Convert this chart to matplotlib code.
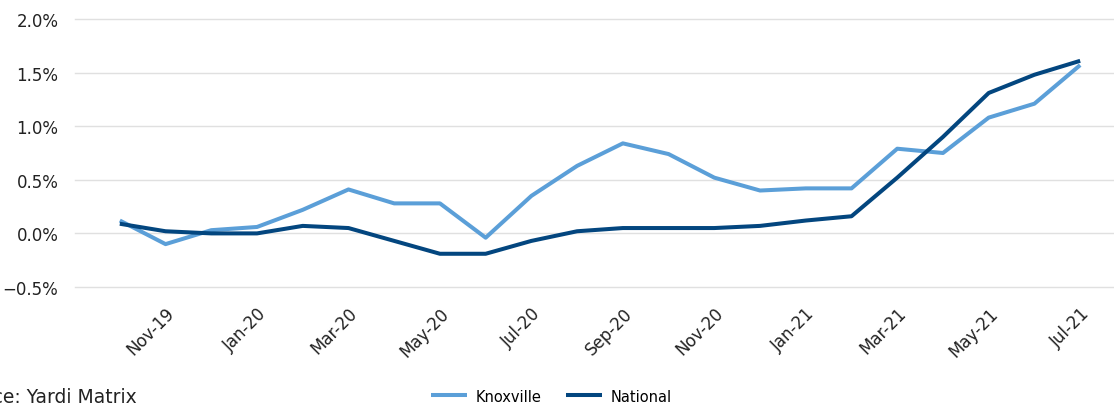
import numpy as np
import matplotlib
matplotlib.use("Agg")
import matplotlib.pyplot as plt
from matplotlib.ticker import PercentFormatter

# Monatswerte Okt-19 .. Jul-21
months = ["Oct-19", "Nov-19", "Dec-19", "Jan-20", "Feb-20", "Mar-20", "Apr-20",
          "May-20", "Jun-20", "Jul-20", "Aug-20", "Sep-20", "Oct-20", "Nov-20",
          "Dec-20", "Jan-21", "Feb-21", "Mar-21", "Apr-21", "May-21", "Jun-21",
          "Jul-21"]
knoxville = [0.12, -0.10, 0.03, 0.06, 0.22, 0.41, 0.28, 0.28, -0.04, 0.35, 0.63,
             0.84, 0.74, 0.52, 0.40, 0.42, 0.42, 0.79, 0.75, 1.08, 1.21, 1.57]
national = [0.09, 0.02, 0.00, 0.00, 0.07, 0.05, -0.07, -0.19, -0.19, -0.07, 0.02,
            0.05, 0.05, 0.05, 0.07, 0.12, 0.16, 0.52, 0.90, 1.31, 1.48, 1.61]
y_ticks = [-0.5, 0.0, 0.5, 1.0, 1.5, 2.0]

plt.rcParams['font.family'] = ['DejaVu Sans']

fig = plt.figure(figsize=(11.14, 4.06), dpi=100)
ax = fig.add_axes([75 / 1114, 1 - 288 / 406, 1 - 75 / 1114, 268 / 406])

x = np.arange(len(months))
ax.plot(x, knoxville, color="#5b9fd8", lw=2.9, label="Knoxville", solid_capstyle="butt")
ax.plot(x, national, color="#03467f", lw=2.9, label="National", solid_capstyle="butt")

ax.set_ylim(-0.5, 2.0)
ax.set_yticks(y_ticks)
ax.yaxis.set_major_formatter(PercentFormatter(decimals=1))
ax.set_xlim(-0.98, 21.74)
ax.set_xticks(x[1::2])
ax.set_xticklabels(months[1::2], rotation=45, ha="right", rotation_mode="anchor")

ax.grid(axis="y", color="#e0e0e0", lw=1)
for gl in ax.get_ygridlines():
    gl.set_clip_on(False)
ax.set_axisbelow(True)
for s in ax.spines.values():
    s.set_visible(False)
ax.tick_params(axis="both", length=0, labelsize=12, colors="#222222")
ax.tick_params(axis="x", pad=12)
ax.tick_params(axis="y", pad=12)

fig.legend(loc="center", bbox_to_anchor=(0.495, 0.022), ncol=2, frameon=False,
           fontsize=10.5, handlelength=2.47, handletextpad=0.6, columnspacing=1.65)
fig.text(-0.045, 0.022, "Source: Yardi Matrix", fontsize=13.5, va="center", color="#222222")

fig.savefig("out.png", dpi=100)
